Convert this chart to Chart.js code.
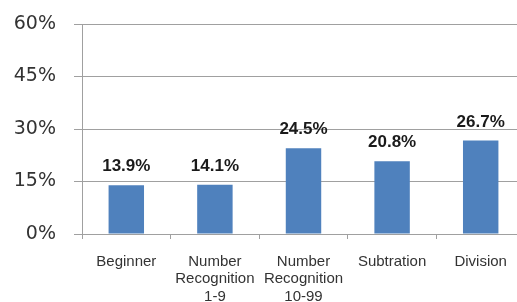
<!DOCTYPE html>
<html><head><meta charset="utf-8">
<script src="https://cdn.jsdelivr.net/npm/chart.js@4"></script>
<style>html,body{margin:0;padding:0;overflow:hidden;background:#fff;width:517px;height:302px}</style>
</head><body>
<canvas id="c" width="525" height="302"></canvas>
<script>
const categories = [["Beginner"], ["Number", "Recognition", "1-9"], ["Number", "Recognition", "10-99"], ["Subtration"], ["Division"]];
const values = [13.9, 14.1, 24.5, 20.8, 26.7];
const yTicks = [0, 15, 30, 45, 60];

const valueLabels = {
  id: 'valueLabels',
  afterDatasetsDraw(chart) {
    const ctx = chart.ctx;
    const meta = chart.getDatasetMeta(0);
    ctx.save();
    ctx.font = 'bold 17px "Liberation Sans", Arial, sans-serif';
    ctx.fillStyle = '#1a1a1a';
    ctx.textAlign = 'center';
    ctx.textBaseline = 'alphabetic';
    meta.data.forEach((bar, i) => {
      ctx.fillText(values[i].toFixed(1) + '%', bar.x, bar.y - 14);
    });
    ctx.restore();
  }
};

new Chart(document.getElementById('c'), {
  type: 'bar',
  data: {
    labels: categories,
    datasets: [{ data: values, backgroundColor: '#4f81bd', barPercentage: 0.4, categoryPercentage: 1.0 }]
  },
  options: {
    responsive: false,
    animation: false,
    layout: { padding: { top: 24, left: 0, right: 0, bottom: 0 } },
    plugins: { legend: { display: false }, tooltip: { enabled: false } },
    scales: {
      x: {
        offset: true,
        grid: { drawOnChartArea: false, drawTicks: true, tickLength: 5, color: '#a0a0a0', offset: true },
        border: { color: '#a0a0a0', width: 1 },
        ticks: { color: '#333', font: { family: '"Liberation Sans", Arial, sans-serif', size: 15, lineHeight: 1.17 }, padding: 14, maxRotation: 0, autoSkip: false },
        afterFit: s => { s.height = 68; s.paddingLeft = 0; s.paddingRight = 0; }
      },
      y: {
        min: 0, max: 60,
        afterBuildTicks: s => { s.ticks = yTicks.map(v => ({ value: v })); },
        grid: { color: '#a0a0a0', tickLength: 8, lineWidth: 1 },
        border: { color: '#a0a0a0', width: 1 },
        ticks: { color: '#333', font: { family: '"DejaVu Sans", sans-serif', size: 19 }, padding: 18, callback: v => v + '%' },
        afterFit: s => { s.width = 82; s.paddingTop = 0; s.paddingBottom = 0; }
      }
    }
  },
  plugins: [valueLabels]
});
</script>
</body></html>
